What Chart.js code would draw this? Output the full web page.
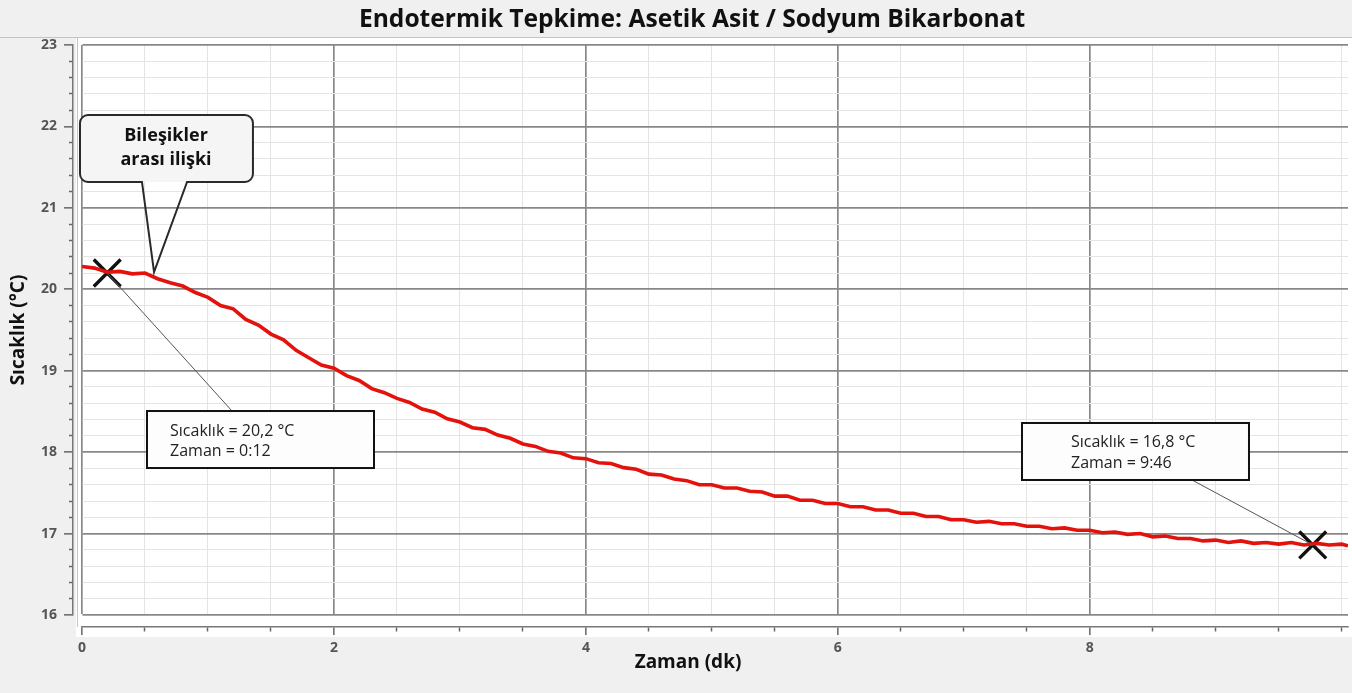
<!DOCTYPE html>
<html lang="tr">
<head>
<meta charset="utf-8">
<title>Endotermik Tepkime</title>
<script src="https://cdn.jsdelivr.net/npm/chart.js@4.4.1/dist/chart.umd.min.js"></script>
<style>
  html, body { margin: 0; padding: 0; background: #f0f0f0; overflow: hidden; }
  #wrap { width: 1352px; height: 693px; position: relative; }
  canvas { display: block; }
</style>
</head>
<body>
<div id="wrap"><canvas id="chart"></canvas></div>
<script>
// time (min) and temperature (°C)
const TIMES = [
  0.0, 0.1, 0.2, 0.3, 0.4, 0.5, 0.6, 0.7, 0.8, 0.9,
  1.0, 1.1, 1.2, 1.3, 1.4, 1.5, 1.6, 1.7, 1.8, 1.9,
  2.0, 2.1, 2.2, 2.3, 2.4, 2.5, 2.6, 2.7, 2.8, 2.9,
  3.0, 3.1, 3.2, 3.3, 3.4, 3.5, 3.6, 3.7, 3.8, 3.9,
  4.0, 4.1, 4.2, 4.3, 4.4, 4.5, 4.6, 4.7, 4.8, 4.9,
  5.0, 5.1, 5.2, 5.3, 5.4, 5.5, 5.6, 5.7, 5.8, 5.9,
  6.0, 6.1, 6.2, 6.3, 6.4, 6.5, 6.6, 6.7, 6.8, 6.9,
  7.0, 7.1, 7.2, 7.3, 7.4, 7.5, 7.6, 7.7, 7.8, 7.9,
  8.0, 8.1, 8.2, 8.3, 8.4, 8.5, 8.6, 8.7, 8.8, 8.9,
  9.0, 9.1, 9.2, 9.3, 9.4, 9.5, 9.6, 9.7, 9.8, 9.9,
  10.0, 10.05
];
const TEMPS = [
  20.28, 20.26, 20.21, 20.22, 20.19, 20.20, 20.13, 20.08, 20.04, 19.96,
  19.90, 19.80, 19.76, 19.63, 19.56, 19.45, 19.38, 19.25, 19.16, 19.07,
  19.03, 18.94, 18.88, 18.78, 18.73, 18.66, 18.61, 18.53, 18.49, 18.41,
  18.37, 18.30, 18.28, 18.21, 18.17, 18.10, 18.07, 18.01, 17.99, 17.93,
  17.92, 17.87, 17.86, 17.81, 17.79, 17.73, 17.72, 17.67, 17.65, 17.60,
  17.60, 17.56, 17.56, 17.52, 17.51, 17.46, 17.46, 17.41, 17.41, 17.37,
  17.37, 17.33, 17.33, 17.29, 17.29, 17.25, 17.25, 17.21, 17.21, 17.17,
  17.17, 17.14, 17.15, 17.12, 17.12, 17.09, 17.09, 17.06, 17.07, 17.04,
  17.04, 17.01, 17.02, 16.99, 17.00, 16.96, 16.97, 16.94, 16.94, 16.91,
  16.92, 16.89, 16.91, 16.88, 16.89, 16.87, 16.89, 16.86, 16.88, 16.86,
  16.87, 16.85
];

// the two marked readings
const MARK_TIMES = [0.2, 9.77];
const MARK_TEMPS = [20.2, 16.86];
const MARK_TEXT = [
  ["Sıcaklık = 20,2 °C", "Zaman = 0:12"],
  ["Sıcaklık = 16,8 °C", "Zaman = 9:46"]
];
const CALLOUT_TEXT = ["Bileşikler", "arası ilişki"];
const TITLE = "Endotermik Tepkime: Asetik Asit / Sodyum Bikarbonat";
const X_TITLE = "Zaman (dk)";

const X_LABELS = [0, 2, 4, 6, 8];
const Y_LABELS = [16, 17, 18, 19, 20, 21, 22, 23];

const FONT = "'Open Sans', 'Noto Sans', sans-serif";
const RED = "#e3120c";

function isIn(list, v){ return list.some(x => Math.abs(x - v) < 1e-6); }

// note boxes and the speech bubble, placed in data units
const NOTES = [
  { x1: 0.516, x2: 2.318, y1: 18.505, y2: 17.805, tx: 0.699, ty: [18.26, 18.014], lx: 1.191, ly: 18.505 },
  { x1: 7.462, x2: 9.264, y1: 18.358, y2: 17.658, tx: 7.851, ty: [18.125, 17.867], lx: 8.812, ly: 17.658 }
];
const BUBBLE = { x1: -0.016, x2: 1.357, y1: 22.14, y2: 21.318, b1: 0.476, b2: 0.834, tipX: 0.572, tipY: 20.21, tx: 0.667, ty: [21.882, 21.588] };

const decor = {
  id: "decor",
  beforeDraw(chart){
    const c = chart.ctx, a = chart.chartArea;
    c.save();
    c.fillStyle = "#f0f0f0";
    c.fillRect(0, 0, chart.width, chart.height);
    c.fillStyle = "#ffffff";
    c.fillRect(a.left - 6, a.top - 7, chart.width - a.left + 6, a.bottom - a.top + 29);
    c.strokeStyle = "#c4c4c4";
    c.lineWidth = 1;
    c.beginPath();
    c.moveTo(0, a.top - 7.5); c.lineTo(chart.width, a.top - 7.5);
    c.moveTo(a.left - 4.5, a.top - 7); c.lineTo(a.left - 4.5, a.bottom + 12);
    c.stroke();
    c.restore();
  },
  afterDraw(chart){
    const c = chart.ctx, xs = chart.scales.x, ys = chart.scales.y;
    const px = v => xs.getPixelForValue(v), py = v => ys.getPixelForValue(v);
    c.save();

    // title and x axis title, both centred a bit left of the plot centre like the original
    c.fillStyle = "#111";
    c.textAlign = "center";
    c.textBaseline = "middle";
    c.font = "bold 24.6px " + FONT;
    c.fillText(TITLE, chart.width / 2 + 16, 20);
    c.font = "bold 19px " + FONT;
    c.fillText(X_TITLE, chart.width / 2 + 12, xs.bottom - 30);

    // leader lines from the markers to the boxes
    c.strokeStyle = "#555";
    c.lineWidth = 1;
    c.beginPath();
    c.moveTo(px(MARK_TIMES[0]), py(MARK_TEMPS[0])); c.lineTo(px(NOTES[0].lx), py(NOTES[0].ly));
    c.moveTo(px(NOTES[1].lx), py(NOTES[1].ly)); c.lineTo(px(MARK_TIMES[1]), py(MARK_TEMPS[1]));
    c.stroke();

    // note boxes
    NOTES.forEach((n, i) => {
      const x = px(n.x1), y = py(n.y1), w = px(n.x2) - x, h = py(n.y2) - y;
      c.fillStyle = "#fdfdfd";
      c.fillRect(x, y, w, h);
      c.strokeStyle = "#111";
      c.lineWidth = 2;
      c.strokeRect(x, y, w, h);
      c.fillStyle = "#222";
      c.font = "16px " + FONT;
      c.textBaseline = "middle";
      c.textAlign = "left";
      MARK_TEXT[i].forEach((t, k) => c.fillText(t, px(n.tx), py(n.ty[k])));
    });

    // speech bubble
    const b = BUBBLE;
    const L = px(b.x1), R = px(b.x2), T = py(b.y1), B = py(b.y2), r = 8;
    c.fillStyle = "#f5f5f5";
    c.beginPath();
    c.roundRect(L, T, R - L, B - T, r);
    c.fill();
    c.beginPath();
    c.moveTo(L + r, T);
    c.lineTo(R - r, T); c.arcTo(R, T, R, T + r, r);
    c.lineTo(R, B - r); c.arcTo(R, B, R - r, B, r);
    c.lineTo(px(b.b2), B);
    c.lineTo(px(b.tipX), py(b.tipY));
    c.lineTo(px(b.b1), B);
    c.lineTo(L + r, B); c.arcTo(L, B, L, B - r, r);
    c.lineTo(L, T + r); c.arcTo(L, T, L + r, T, r);
    c.closePath();
    c.strokeStyle = "#2a2a2a";
    c.lineWidth = 2;
    c.stroke();
    c.fillStyle = "#111";
    c.font = "bold 18px " + FONT;
    c.textAlign = "center";
    c.textBaseline = "middle";
    CALLOUT_TEXT.forEach((t, k) => c.fillText(t, px(b.tx), py(b.ty[k])));

    c.restore();
  }
};

const tickFont = { family: FONT, size: 14, weight: "bold" };

new Chart(document.getElementById("chart"), {
  type: "line",
  data: {
    datasets: [
      {
        label: "Sıcaklık",
        data: TIMES.map((t, i) => ({ x: t, y: TEMPS[i] })),
        borderColor: RED,
        borderWidth: 3.6,
        pointRadius: 0,
        tension: 0
      },
      {
        label: "İşaret",
        data: MARK_TIMES.map((t, i) => ({ x: t, y: MARK_TEMPS[i] })),
        showLine: false,
        pointStyle: "crossRot",
        pointRadius: 19,
        pointBorderWidth: 3.4,
        pointBorderColor: "#111",
        clip: false
      }
    ]
  },
  options: {
    responsive: true,
    maintainAspectRatio: false,
    animation: false,
    events: [],
    layout: { autoPadding: false, padding: { left: 0, right: 4, top: 45, bottom: 0 } },
    plugins: {
      legend: { display: false },
      tooltip: { enabled: false },
      title: { display: false }
    },
    scales: {
      x: {
        type: "linear",
        position: "bottom",
        weight: 1,
        min: 0,
        max: 10.05,
        afterFit: s => { s.height = 66; s.paddingLeft = 0; s.paddingRight = 0; },
        ticks: {
          stepSize: 0.5,
          includeBounds: false,
          autoSkip: false,
          maxRotation: 0,
          padding: 5,
          color: "#555",
          font: tickFont,
          callback: v => isIn(X_LABELS, v) ? String(v) : ""
        },
        grid: {
          color: ctx => isIn(X_LABELS, ctx.tick.value) ? "#888" : "#e4e4e4",
          lineWidth: ctx => isIn(X_LABELS, ctx.tick.value) ? 1.7 : 1,
          tickLength: 8,
          tickColor: "#666",
          tickWidth: 1.5,
          tickBorderDash: ctx => isIn(X_LABELS, ctx.tick.value) ? [] : [4, 40]
        },
        border: { display: true, color: "#777", width: 1.5 },
        title: { display: false }
      },
      xg: {
        type: "linear",
        position: "bottom",
        weight: 0,
        min: 0,
        max: 1,
        afterFit: s => { s.height = 12; },
        ticks: { display: false },
        grid: { display: false },
        border: { display: false }
      },
      y: {
        type: "linear",
        position: "left",
        weight: 1,
        min: 16,
        max: 23,
        afterFit: s => { s.width = 73; },
        ticks: {
          stepSize: 0.2,
          autoSkip: false,
          padding: 7,
          color: "#555",
          font: tickFont,
          callback: v => isIn(Y_LABELS, v) ? String(Math.round(v)) : ""
        },
        grid: {
          color: ctx => isIn(Y_LABELS, ctx.tick.value) ? "#888" : "#e4e4e4",
          lineWidth: ctx => isIn(Y_LABELS, ctx.tick.value) ? 1.7 : 1,
          tickLength: 9,
          tickColor: "#666",
          tickWidth: 1.5,
          tickBorderDash: ctx => isIn(Y_LABELS, ctx.tick.value) ? [] : [0, 5, 4, 40]
        },
        border: { display: true, color: "#777", width: 1.5 },
        title: {
          display: true,
          text: "Sıcaklık (°C)",
          color: "#111",
          font: { family: FONT, size: 19, weight: "bold" },
          padding: { top: 7, bottom: 0 }
        }
      },
      yg: {
        type: "linear",
        position: "left",
        weight: 0,
        min: 0,
        max: 1,
        afterFit: s => { s.width = 9; },
        ticks: { display: false },
        grid: { display: false },
        border: { display: false }
      }
    }
  },
  plugins: [decor]
});
</script>
</body>
</html>
